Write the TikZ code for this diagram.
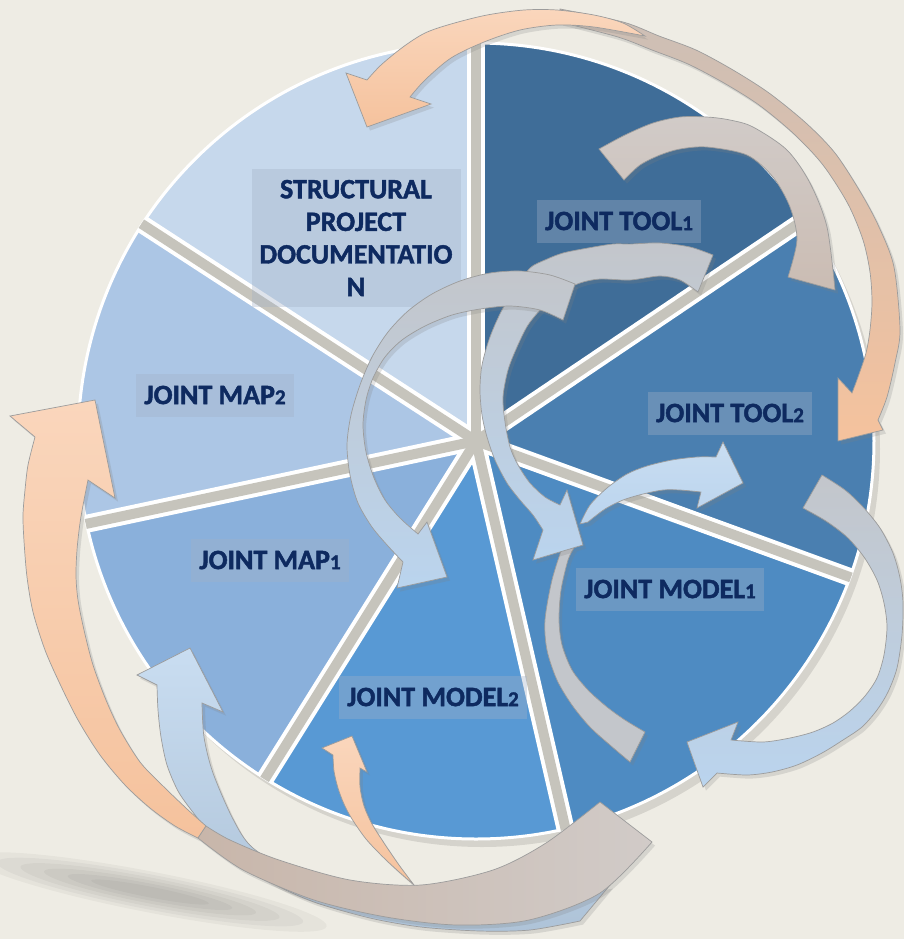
\documentclass[tikz,border=0pt]{standalone}
\usepackage{fontspec}
\setmainfont{Carlito}[BoldFeatures={FakeBold=1.6}]
\usetikzlibrary{shadows}
\definecolor{bgcol}{HTML}{EEECE4}
\definecolor{toolone}{HTML}{3F6D98}
\definecolor{tooltwo}{HTML}{4A7FB0}
\definecolor{modelone}{HTML}{4E8BC2}
\definecolor{modeltwo}{HTML}{5899D4}
\definecolor{mapone}{HTML}{8AB0DB}
\definecolor{maptwo}{HTML}{ACC6E5}
\definecolor{structcol}{HTML}{C6D8EC}
\definecolor{gapcol}{HTML}{C6C4BC}
\definecolor{navy}{HTML}{0E2A60}
\definecolor{boxcol}{HTML}{A3B1C6}
\definecolor{peach}{HTML}{F5C29D}
\definecolor{peachlt}{HTML}{FAD6BC}
\definecolor{taupe}{HTML}{C8B6AA}
\definecolor{taupelt}{HTML}{D1CBC8}
\definecolor{ribgray}{HTML}{C3C6CB}
\definecolor{ltblue}{HTML}{BAD4EE}
\definecolor{ltbluelt}{HTML}{C9DDF1}
\definecolor{edgecol}{HTML}{9C9C9C}
\def\pieslice#1(#2:#3){\fill[#1] (476,441) -- ++(-#2:398) arc[start angle=-#2, end angle=-#3, radius=398] -- cycle;}
\newcommand\dg[1]{{\fontsize{10.5}{10}\selectfont #1}}
\tikzset{
  lbl/.style={fill=boxcol, fill opacity=0.35, text opacity=1, text=navy,
    font=\bfseries\fontsize{14}{16.3}\selectfont, inner xsep=4pt, minimum height=21.5pt, align=center},
  ribbon/.style={draw=edgecol, line width=0.35pt,
    drop shadow={opacity=0.22, shadow xshift=1.5pt, shadow yshift=-1.8pt}},
}
\begin{document}
\begin{tikzpicture}[x=0.5pt, y=-0.5pt]
  %%%%% START %%%%%
  \fill[bgcol] (0,0) rectangle (904,939);
  \useasboundingbox (0,0) rectangle (904,939);

  % ground shadow
  \foreach \s in {1,...,6}
    \fill[black, opacity=0.035, rotate around={-11:(150,892)}] (150,892) ellipse [x radius={18pt+12pt*\s}, y radius={1.2pt+1.5pt*\s}];

  \fill[black, opacity=0.10] (482,449) circle (398);
  \pieslice{toolone}(34:90)
  \pieslice{structcol}(90:147)
  \pieslice{maptwo}(147:192)
  \pieslice{mapone}(192:238)
  \pieslice{modeltwo}(238:283)
  \pieslice{modelone}(283:340)
  \pieslice{tooltwo}(340:394)
  \draw[white, line width=1.5pt] (476,441) circle (398);
  \foreach \a in {34,90,147,192,238,283,340}
    \draw[white, line width=9pt] (476,441) -- ++(-\a:399);
  \foreach \a in {34,90,147,192,238,283,340}
    \draw[gapcol, line width=5pt] (476,441) -- ++(-\a:399);

  \node[lbl, minimum width=104.5pt, minimum height=69pt] (struct) at (356,238) {STRUCTURAL\\PROJECT\\DOCUMENTATIO\\N};
  \node[lbl] (tool1) at (619,221) {JOINT TOOL\dg{1}};
  \node[lbl] (tool2) at (730,413) {JOINT TOOL\dg{2}};
  \node[lbl] (map2) at (215,395) {JOINT MAP\dg{2}};
  \node[lbl] (map1) at (270,560) {JOINT MAP\dg{1}};
  \node[lbl] (model1) at (670,589) {JOINT MODEL\dg{1}};
  \node[lbl] (model2) at (433,697) {JOINT MODEL\dg{2}};

  % bottom ribbons
  \draw[ribbon, top color=peachlt, bottom color=peach] plot[smooth] coordinates {(333,755) (334,771) (338,788) (344,804) (352,819) (366,839) (383,857) (398,871) (414,885)}
    -- plot[smooth] coordinates {(414,885) (399,865) (384,843) (372,824) (364,806) (360,787) (360,768)}
    -- (367,772) -- (352,736) -- (322,748) -- cycle;
  \draw[ribbon, top color=ltbluelt, bottom color=ltblue!80!gray] plot[smooth] coordinates {(157,685) (158,710) (161,737) (167,765) (178,791) (192,811) (210,833) (235,858) (270,882) (314,902) (370,918) (421,927) (480,931) (530,930) (580,921)}
    -- (610,885) -- plot[smooth] coordinates {(610,885) (540,895) (460,900) (380,895) (300,875) (253,848) (233,819) (213,773) (204,737) (202,703)}
    -- (223,712) -- (190,648) -- (137,675) -- cycle;
  \draw[ribbon, top color=peachlt, bottom color=peach] plot[smooth] coordinates {(35,437) (28,465) (25,490) (23,515) (24,541) (27,577) (33,612) (45,650) (60,684) (78,720) (100,755) (125,785) (150,808) (175,826) (198,838)}
    -- plot[smooth] coordinates {(206,826) (187,809) (162,785) (140,762) (120,730) (106,700) (93,665) (84,630) (78,600) (76,576) (77,550) (80,523) (84,500) (88,480)}
    -- (115,498) -- (95,400) -- (10,416) -- cycle;
  \draw[ribbon, left color=taupe, right color=taupelt] plot[smooth] coordinates {(206,826) (230,840) (279,860) (350,880) (421,885) (493,870) (546,843) (600,802)}
    -- plot[smooth] coordinates {(652,842) (600,893) (529,920) (457,925) (386,917) (314,900) (243,870) (198,838)} -- cycle;

  % top ribbons
  \draw[ribbon, top color=taupe!60!taupelt, bottom color=peach] plot[smooth] coordinates {(560,9) (623,22) (659,36) (696,50) (733,70) (769,93) (806,123) (835,153) (861,193) (879,227) (894,267) (900,330) (895,363) (887,397) (878,420)}
    -- (883,430) -- (838,441) -- (838,378)
    -- plot[smooth] coordinates {(852,393) (858,377) (866,353) (870,330) (872,302) (870,272) (863,240) (848,204) (823,165) (794,134) (759,105) (724,83) (688,64) (652,50) (618,37) (560,22)} -- cycle;
  \draw[ribbon, top color=peachlt, bottom color=peach] plot[smooth] coordinates {(645,36) (623,23) (594,15) (557,10) (524,10) (487,15) (451,24) (425,33) (403,47) (381,65) (367,80)}
    -- (346,73) -- (367,127) -- (431,104)
    -- plot[smooth] coordinates {(410,97) (425,80) (451,58) (484,42) (520,30) (557,25) (594,27) (645,36)} -- cycle;
  \draw[ribbon, top color=taupelt, bottom color=taupe!70!taupelt] plot[smooth] coordinates {(599,149) (625,135) (653,123) (680,117) (707,117) (730,120) (753,127) (787,150) (810,183) (827,227) (835,290)}
    -- plot[smooth] coordinates {(788,277) (797,240) (790,207) (773,177) (747,155) (707,147) (680,149) (660,155) (640,165) (624,180)} -- cycle;

  % middle ribbons
  \draw[ribbon, fill=ribgray] plot[smooth] coordinates {(562,548) (552,580) (545,620) (547,650) (557,680) (572,705) (590,727) (610,745) (630,762)}
    -- plot[smooth] coordinates {(645,732) (625,720) (607,707) (588,690) (572,670) (562,645) (559,620) (561,590) (568,560) (574,548)} -- cycle;
  \draw[ribbon, top color=ltbluelt, bottom color=ltblue] plot[smooth] coordinates {(580,524) (590,505) (607,488) (627,474) (647,466) (672,460) (697,457) (716,457)}
    -- (723,442) -- (743,483) -- (697,508)
    -- plot[smooth] coordinates {(701,492) (680,490) (663,490) (643,494) (623,500) (605,509) (588,522)} -- cycle;
  \draw[ribbon, top color=ribgray, bottom color=ltblue] plot[smooth] coordinates {(713,255) (690,247) (660,243) (630,244) (613,244) (588,248) (563,253) (545,260) (530,268) (517,287) (502,310) (490,337) (482,365) (480,390) (482,415) (487,437) (495,460) (507,483) (520,500) (533,515) (543,530)}
    -- (533,560) -- (583,545) -- (567,490)
    -- plot[smooth] coordinates {(560,505) (545,497) (530,483) (518,465) (510,447) (505,422) (503,397) (508,370) (517,347) (528,325) (543,307) (560,293) (580,283) (600,279) (630,280) (660,276) (680,280) (698,292)} -- cycle;
  \draw[ribbon, top color=ribgray, bottom color=ltblue] plot[smooth] coordinates {(575,284) (550,275) (520,271) (490,273) (460,281) (432,294) (408,311) (388,332) (372,357) (360,385) (351,415) (347,445) (350,475) (358,503) (372,527) (388,546) (403,562)}
    -- (397,588) -- (447,577) -- (427,522)
    -- plot[smooth] coordinates {(418,534) (400,518) (385,500) (374,478) (366,452) (363,425) (366,400) (373,378) (385,357) (402,340) (425,326) (452,315) (480,309) (510,306) (540,310) (563,320)} -- cycle;
  \draw[ribbon, top color=ribgray, bottom color=ltblue] plot[smooth] coordinates {(822,475) (845,490) (863,507) (880,528) (893,553) (900,578) (903,603) (902,635) (897,668) (888,692) (877,710) (862,727) (843,740) (822,753) (797,765) (772,772) (747,775) (717,773)}
    -- (703,787) -- (687,742) -- (738,722)
    -- plot[smooth] coordinates {(731,740) (763,742) (790,738) (813,732) (833,723) (850,711) (865,696) (877,678) (884,655) (887,627) (884,603) (877,580) (864,557) (847,537) (826,521) (803,508)} -- cycle;
  %%%%% END %%%%%
\end{tikzpicture}
\end{document}
